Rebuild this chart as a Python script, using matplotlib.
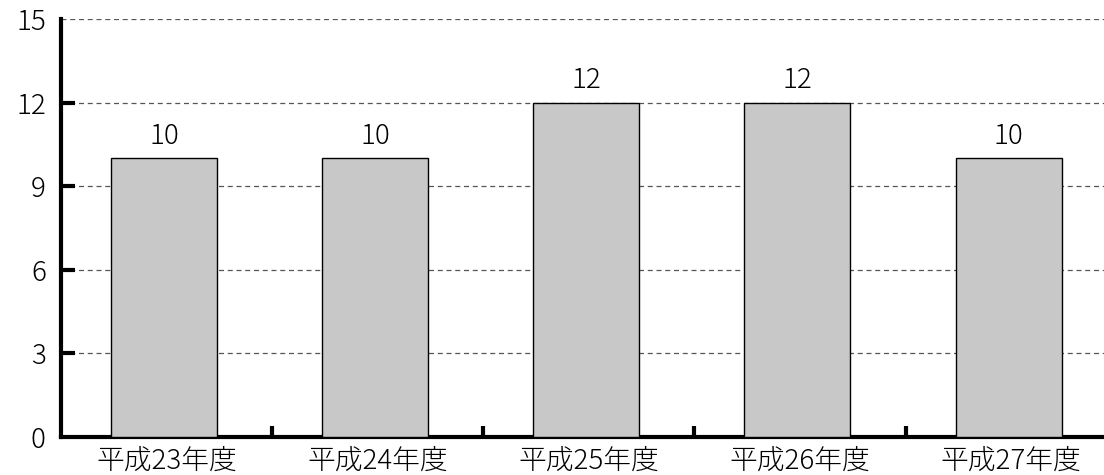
import matplotlib.pyplot as plt

plt.rcParams['font.family'] = ['Noto Sans CJK JP', 'DejaVu Sans']

categories = ["平成23年度", "平成24年度", "平成25年度", "平成26年度", "平成27年度"]
values = [10, 10, 12, 12, 10]
yticks = [0, 3, 6, 9, 12, 15]

fig = plt.figure(figsize=(11.04, 4.75), dpi=100)
ax = fig.add_axes([0.0553, 0.08, 0.9447, 0.88])

x = list(range(len(categories)))
ax.bar([xi - 0.012 for xi in x], values, width=0.502, color="#c8c8c8",
       edgecolor="black", linewidth=1.0, zorder=3)
for xi, v in zip(x, values):
    ax.text(xi - 0.012, v + 0.3, str(v), ha="center", va="bottom",
            fontsize=20, fontweight="light")

ax.set_xlim(-0.5, 4.44)
ax.set_ylim(0, 15)
ax.set_yticks(yticks)
ax.set_yticklabels([str(t) for t in yticks], fontsize=20, fontweight="light")
ax.yaxis.grid(True, linestyle=(0, (4, 3)), color="#555555", linewidth=0.9, zorder=0)

# category labels centred, tick marks between categories
ax.set_xticks([i + 0.5 for i in range(len(categories) - 1)])
ax.set_xticklabels([])
ax.set_xticks(x, minor=True)
ax.set_xticklabels(categories, minor=True, fontsize=20, fontweight="light")
ax.tick_params(axis="x", which="major", direction="in", length=8, width=3)
ax.tick_params(axis="x", which="minor", length=0, pad=7)
ax.tick_params(axis="y", direction="in", length=10, width=3, pad=11)
for t in ax.yaxis.get_major_ticks():
    if t.get_loc() in (0, 15):
        t.tick1line.set_visible(False)

for s in ("top", "right"):
    ax.spines[s].set_visible(False)
ax.spines["left"].set_linewidth(3)
ax.spines["bottom"].set_linewidth(3)

fig.savefig("out.png", dpi=100)
